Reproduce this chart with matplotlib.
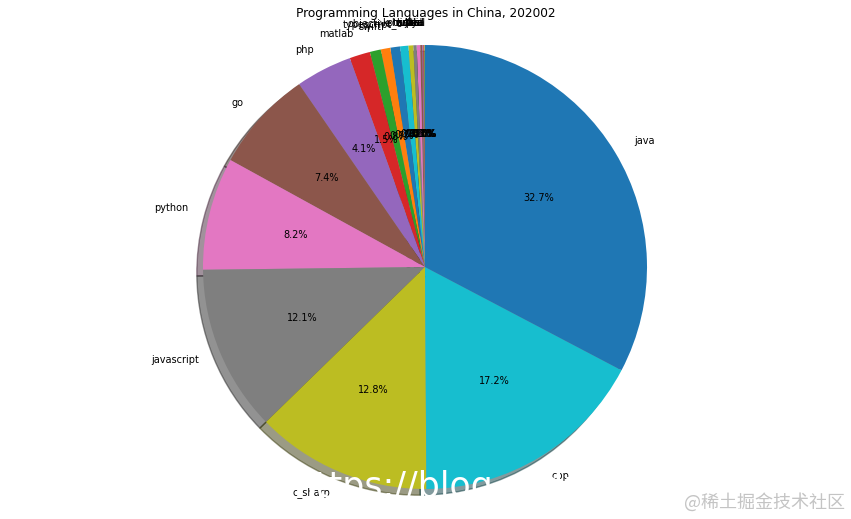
import matplotlib
matplotlib.use('Agg')
import matplotlib.pyplot as plt

# share of each language, ascending order (pie drawn counterclockwise from the top)
languages = ['haskell', 'julia', 'perl', 'lua', 'scala', 'vba', 'ruby', 'rust',
             'kotlin', 'objective_c', 'typescript', 'swift', 'r', 'matlab',
             'php', 'go', 'python', 'javascript', 'c_sharp', 'cpp', 'java']
shares = [0.02, 0.03, 0.04, 0.05, 0.06, 0.15, 0.25, 0.25,
          0.35, 0.6, 0.7, 0.7, 0.8, 1.5,
          4.1, 7.4, 8.2, 12.1, 12.8, 17.2, 32.7]

title = 'Programming Languages in China, 202002'

W, H = 851, 519
fig = plt.figure(figsize=(W / 100, H / 100), dpi=100)
ax = fig.add_axes([0, 0, 1, 1])

ax.pie(shares, labels=languages, autopct='%1.1f%%', shadow=True, startangle=90,
       textprops={'fontsize': 7})

# place the pie: centre at (425, 267) px, radius 222 px
cx, cy, r = 425, H - 267, 222
ax.set_xlim(-cx / r, (W - cx) / r)
ax.set_ylim(-cy / r, (H - cy) / r)
ax.set_aspect('equal')
ax.axis('off')

fig.text(0.5, 1 - 13 / H, title, ha='center', va='center', fontsize=8.7)

# watermarks
fig.text(294 / W, 1 - 497 / H, 'https://blog.csdn.net', color='white',
         fontsize=25, va='baseline')
fig.text(845 / W, 1 - 502 / H, '@稀土掘金技术社区', ha='right', va='center',
         color='#c4c4c4', fontsize=13, family=['Noto Sans CJK SC', 'DejaVu Sans'])

fig.savefig('out.png', dpi=100)
